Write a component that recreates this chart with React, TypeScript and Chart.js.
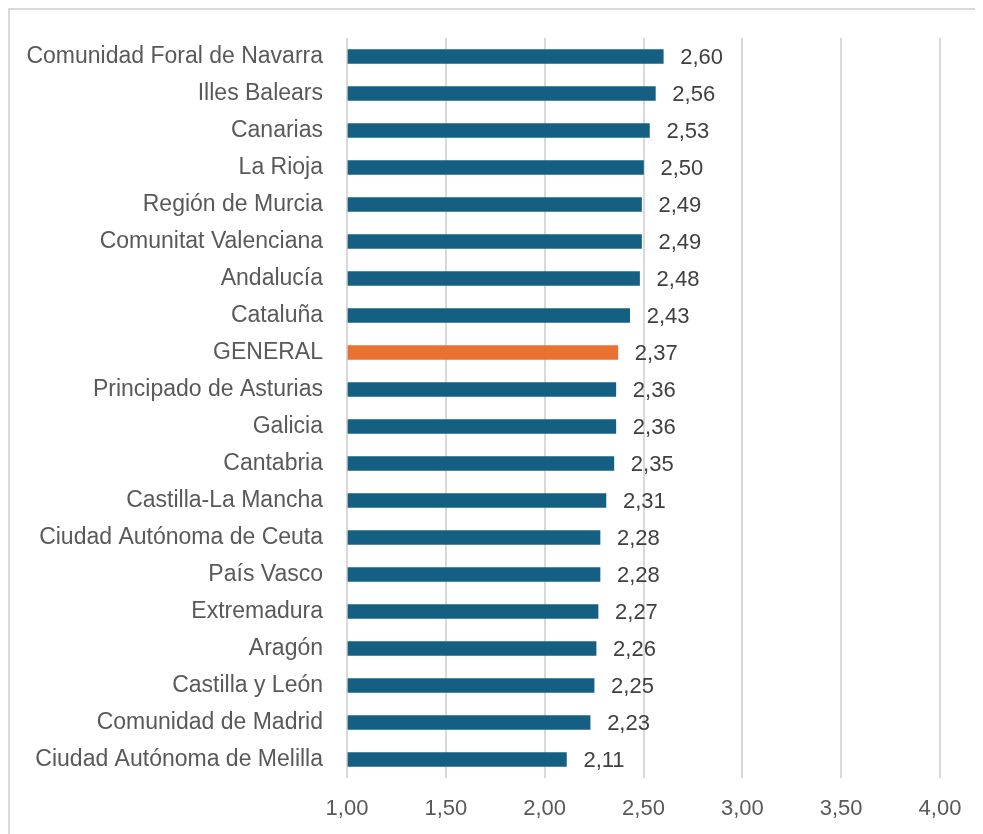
import React, { useEffect, useRef } from "react";
import { Chart, registerables } from "chart.js";

Chart.register(...registerables);

const categories = [
  "Comunidad Foral de Navarra",
  "Illes Balears",
  "Canarias",
  "La Rioja",
  "Región de Murcia",
  "Comunitat Valenciana",
  "Andalucía",
  "Cataluña",
  "GENERAL",
  "Principado de Asturias",
  "Galicia",
  "Cantabria",
  "Castilla-La Mancha",
  "Ciudad Autónoma de Ceuta",
  "País Vasco",
  "Extremadura",
  "Aragón",
  "Castilla y León",
  "Comunidad de Madrid",
  "Ciudad Autónoma de Melilla",
];

const values = [
  2.6, 2.56, 2.53, 2.5, 2.49, 2.49, 2.48, 2.43, 2.37, 2.36, 2.36, 2.35, 2.31,
  2.28, 2.28, 2.27, 2.26, 2.25, 2.23, 2.11,
];

const highlightCategory = "GENERAL";
const axisMin = 1;
const axisMax = 4;
const axisStep = 0.5;

const BLUE = "#156082";
const ORANGE = "#E97132";
const FONT = "'Liberation Sans', Arial, sans-serif";

const fmt = (v: number) => v.toFixed(2).replace(".", ",");

const dataLabelPlugin = {
  id: "dataLabels",
  afterDatasetsDraw(chart: any) {
    const ctx = chart.ctx;
    const meta = chart.getDatasetMeta(0);
    ctx.save();
    ctx.font = `22px ${FONT}`;
    ctx.fillStyle = "#404040";
    ctx.textAlign = "left";
    ctx.textBaseline = "middle";
    meta.data.forEach((el: any, i: number) => {
      const v = chart.data.datasets[0].data[i] as number;
      ctx.fillText(fmt(v), el.x + 17, el.y + 1);
    });
    ctx.restore();
  },
};

export default function App() {
  const ref = useRef<HTMLCanvasElement | null>(null);

  useEffect(() => {
    if (!ref.current) return;
    const chart = new Chart(ref.current, {
      type: "bar",
      data: {
        labels: categories,
        datasets: [
          {
            data: values,
            base: axisMin,
            backgroundColor: categories.map((c) =>
              c === highlightCategory ? ORANGE : BLUE
            ),
            barThickness: 14,
          } as any,
        ],
      },
      options: {
        indexAxis: "y",
        animation: false,
        responsive: false,
        maintainAspectRatio: false,
        layout: { padding: { top: 29, right: 43, left: 0, bottom: 0 } },
        plugins: {
          legend: { display: false },
          tooltip: { enabled: false },
        },
        scales: {
          x: {
            min: axisMin,
            max: axisMax,
            ticks: {
              stepSize: axisStep,
              padding: 18,
              color: "#595959",
              font: { family: FONT, size: 22 },
              callback: (v: any) => fmt(Number(v)),
            },
            grid: {
              color: "#d9d9d9",
              lineWidth: 2,
              drawTicks: false,
            },
            border: { display: false },
            afterFit: (scale: any) => {
              scale.height = 56;
              scale.paddingLeft = 0;
              scale.paddingRight = 0;
            },
          },
          y: {
            ticks: {
              padding: 24,
              color: "#595959",
              font: { family: FONT, size: 23 },
              autoSkip: false,
            },
            grid: { display: false, drawTicks: false },
            border: { display: false },
            afterFit: (scale: any) => {
              scale.width = 338;
              scale.paddingTop = 0;
              scale.paddingBottom = 0;
            },
          },
        },
      },
      plugins: [dataLabelPlugin],
    });
    return () => chart.destroy();
  }, []);

  return (
    <div
      style={{
        position: "relative",
        width: 975,
        height: 826,
        borderTop: "2px solid #d9d9d9",
        borderLeft: "2px solid #d9d9d9",
        boxSizing: "border-box",
        background: "#fff",
        overflow: "hidden",
      }}
    >
      <canvas
        ref={ref}
        width={974}
        height={825}
        style={{ position: "absolute", left: -1, top: -1, width: 974, height: 825 }}
      />
    </div>
  );
}
